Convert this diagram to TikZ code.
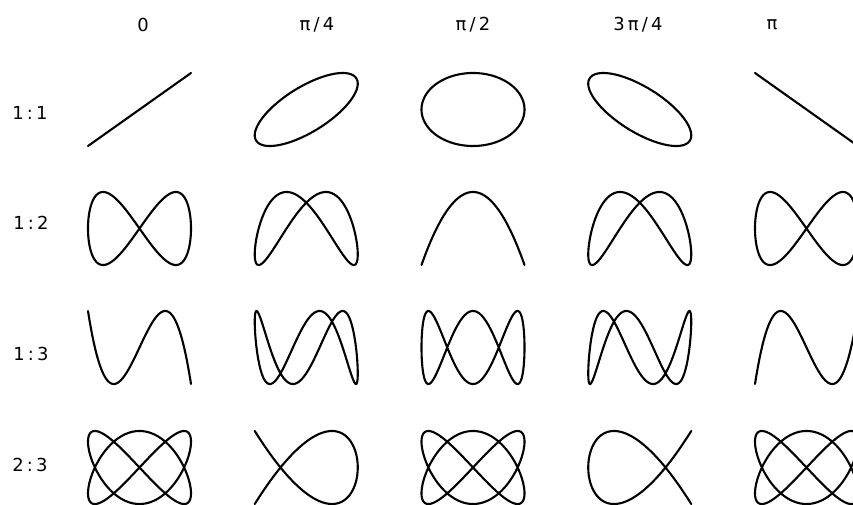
\documentclass[tikz,border=0pt]{standalone}
\usepackage{fontspec}
\setmainfont{DejaVu Sans}[LetterSpace=18]
\tikzset{
  figline/.style={line width=2.1bp, line join=round, line cap=round},
  tag/.style={font=\fontsize{18}{18}\selectfont, inner sep=0pt}
}
\begin{document}
\begin{tikzpicture}[x=1bp, y=-1bp]
  \useasboundingbox (0,0) rectangle (853,505);
  \clip (0,0) rectangle (853,505);
  % Phase differences
  \node[tag] (ph0) at (143,25) {0};
  \node[tag] (ph1) at (317,25) {π/4};
  \node[tag] (ph2) at (473,25) {π/2};
  \node[tag] (ph3) at (638,25) {3π/4};
  \node[tag] (ph4) at (772,25) {π};
  % Frequency ratios
  \node[tag] (r11) at (30,113) {1:1};
  \node[tag] (r12) at (31,223) {1:2};
  \node[tag] (r13) at (31,354) {1:3};
  \node[tag] (r23) at (30,465) {2:3};
  % Figures: x = sin(a t), y = sin(b t + d)
  \foreach \a/\b/\cy in {1/1/109.5, 1/2/228.5, 1/3/347.5, 2/3/467.5}
    \foreach \d [count=\i from 0] in {0,45,90,135,180}
      \draw[figline] plot[domain=0:360, samples=361, variable=\t]
        ({139.5 + 166.75*\i + 51.5*sin(\a*\t)}, {\cy - 36.5*sin(\b*\t + \d)});
\end{tikzpicture}
\end{document}
